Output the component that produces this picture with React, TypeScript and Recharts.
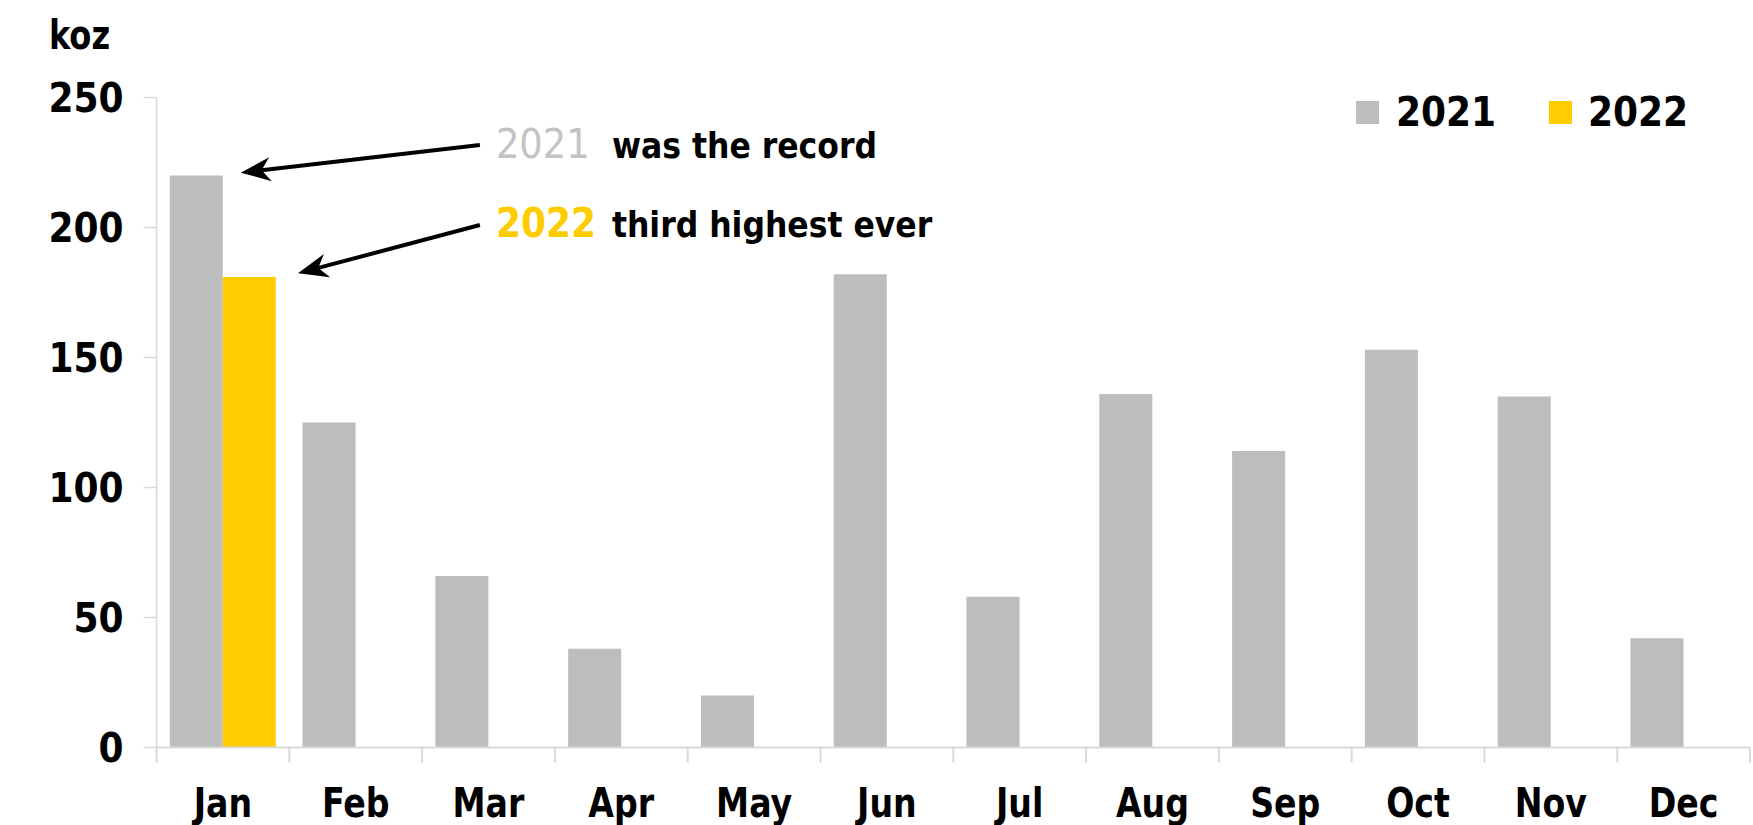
import React from 'react';
import { BarChart, Bar, XAxis, YAxis, Legend, ReferenceDot } from 'recharts';

const months = ['Jan', 'Feb', 'Mar', 'Apr', 'May', 'Jun', 'Jul', 'Aug', 'Sep', 'Oct', 'Nov', 'Dec'];
const values2021 = [220, 125, 66, 38, 20, 182, 58, 136, 114, 153, 135, 42];
const values2022: (number | null)[] = [181, null, null, null, null, null, null, null, null, null, null, null];
const yTicks = [0, 50, 100, 150, 200, 250];
const seriesNames = ['2021', '2022'];

const data = months.map((m, i) => ({ month: m, y2021: values2021[i], y2022: values2022[i] }));

const GRAY = '#BCBDBC';
const YELLOW = '#FFCC00';
const AXIS = '#D9D9D9';
const COND = "'DejaVu Sans Condensed', 'DejaVu Sans', sans-serif";

function Arrow({ x1, y1, x2, y2 }: { x1: number; y1: number; x2: number; y2: number }) {
  const dx = x2 - x1;
  const dy = y2 - y1;
  const len = Math.hypot(dx, dy);
  const ux = dx / len;
  const uy = dy / len;
  const nx = -uy;
  const ny = ux;
  const L = 30;
  const W = 12;
  const N = 21;
  const bx = x2 - ux * L;
  const by = y2 - uy * L;
  const d = `M${x2},${y2} L${bx + nx * W},${by + ny * W} L${x2 - ux * N},${y2 - uy * N} L${bx - nx * W},${by - ny * W} Z`;
  return (
    <g>
      <line x1={x1} y1={y1} x2={x2 - ux * N} y2={y2 - uy * N} stroke="#000" strokeWidth={4} />
      <path d={d} fill="#000" />
    </g>
  );
}

const Note1 = (props: any) => {
  const { cx, cy } = props;
  return (
    <g>
      <Arrow x1={cx + 257} y1={cy - 30.5} x2={cx + 17.8} y2={cy - 2.8} />
      <text x={cx + 273} y={cy - 17.8} fill="#C3C3C3" fontFamily={COND} fontSize={41}>2021</text>
      <text x={cx + 389} y={cy - 17.8} fill="#000" fontFamily={COND} fontWeight="bold" fontSize={35}>was the record</text>
    </g>
  );
};

const Note2 = (props: any) => {
  const { cx, cy } = props;
  return (
    <g>
      <Arrow x1={cx + 257} y1={cy - 51.9} x2={cx + 75.1} y2={cy - 3.6} />
      <text x={cx + 273} y={cy - 39.5} fill={YELLOW} fontFamily={COND} fontWeight="bold" fontSize={40}>2022</text>
      <text x={cx + 389} y={cy - 39.5} fill="#000" fontFamily={COND} fontWeight="bold" fontSize={35}>third highest ever</text>
    </g>
  );
};

const MonthTick = (props: any) => {
  const { x, y, payload, index } = props;
  const half = payload && typeof payload.offset === 'number' ? payload.offset : 0;
  const isLast = index === months.length - 1;
  return (
    <g>
      <line x1={x - half} x2={x - half} y1={y} y2={y + 15} stroke={AXIS} strokeWidth={2} />
      {isLast && <line x1={x + half} x2={x + half} y1={y} y2={y + 15} stroke={AXIS} strokeWidth={2} />}
      <text
        transform={`translate(${x},${y + 69}) scale(0.9,1)`}
        textAnchor="middle"
        fill="#000"
        fontFamily={COND}
        fontWeight="bold"
        fontSize={41}
      >
        {payload.value}
      </text>
    </g>
  );
};

const LegendContent = () => {
  const colors = [GRAY, YELLOW];
  return (
    <div style={{ display: 'flex', alignItems: 'center', height: 40 }}>
      {seriesNames.map((n, i) => (
        <div key={n} style={{ display: 'flex', alignItems: 'center', width: i === 0 ? 193 : 'auto' }}>
          <div style={{ width: 23, height: 23, background: colors[i], marginRight: i === 0 ? 17 : 16 }} />
          <span style={{ fontFamily: COND, fontWeight: 'bold', fontSize: 40, lineHeight: '40px', color: '#000' }}>{n}</span>
        </div>
      ))}
    </div>
  );
};

const KozLabel = (props: any) => {
  const vb = props.viewBox || { x: 0, y: 97.5 };
  return (
    <text
      transform={`translate(${vb.x + 49},${vb.y - 48.5}) scale(0.87,1)`}
      fill="#000"
      fontFamily={COND}
      fontWeight="bold"
      fontSize={41}
    >
      koz
    </text>
  );
};

export default function App() {
  return (
    <div style={{ position: 'absolute', left: 0, top: 0, width: 1753, height: 825, background: '#fff' }}>
      <BarChart
        width={1753}
        height={825}
        data={data}
        margin={{ top: 97.5, right: 3, bottom: 0, left: 0 }}
        barCategoryGap="10%"
        barGap={0}
      >
        <XAxis
          dataKey="month"
          height={77.5}
          interval={0}
          tickLine={false}
          tickSize={0}
          tickMargin={0}
          axisLine={{ stroke: AXIS, strokeWidth: 2 }}
          tick={<MonthTick />}
        />
        <YAxis
          width={156.5}
          domain={[0, 250]}
          ticks={yTicks}
          interval={0}
          tickSize={13}
          tickMargin={20}
          axisLine={{ stroke: AXIS, strokeWidth: 1.5 }}
          tickLine={{ stroke: AXIS, strokeWidth: 1.5 }}
          tick={{ fill: '#000', fontFamily: COND, fontWeight: 'bold', fontSize: 40 }}
          label={{ content: <KozLabel /> }}
        />
        <Legend
          layout="horizontal"
          verticalAlign="middle"
          align="center"
          content={<LegendContent />}
          wrapperStyle={{ left: 1356, top: 92, width: 'auto', height: 40 }}
        />
        <Bar dataKey="y2021" name={seriesNames[0]} fill={GRAY} isAnimationActive={false} />
        <Bar dataKey="y2022" name={seriesNames[1]} fill={YELLOW} isAnimationActive={false} />
        <ReferenceDot x="Jan" y={values2021[0]} r={0} shape={<Note1 />} />
        <ReferenceDot x="Jan" y={values2022[0] as number} r={0} shape={<Note2 />} />
      </BarChart>
    </div>
  );
}
